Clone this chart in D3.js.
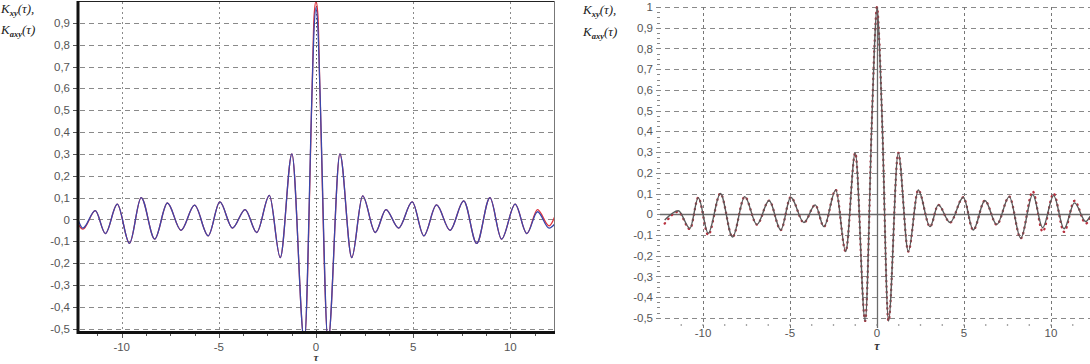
<!DOCTYPE html>
<html>
<head>
<meta charset="utf-8">
<script src="https://cdnjs.cloudflare.com/ajax/libs/d3/7.8.5/d3.min.js"></script>
<style>
  body { margin: 0; background: #fff; }
  svg { display: block; }
</style>
</head>
<body>
<svg id="chart" width="1090" height="364"></svg>
<script>
// values (extrema of each curve)
const leftTau = [-12.25, -12.0, -11.36, -10.84, -10.23, -9.6, -9.0, -8.3, -7.65, -6.95, -6.25, -5.55, -4.95, -4.3, -3.65, -3.05, -2.4, -1.84, -1.24, -0.6, -0.2, -0.1, 0, 0.1, 0.2, 0.62, 1.23, 1.84, 2.4, 3.05, 3.6, 4.25, 4.95, 5.55, 6.2, 6.9, 7.6, 8.27, 8.95, 9.55, 10.25, 10.85, 11.4, 12.0, 12.3];
const leftBlue = [0.0, -0.04, 0.04, -0.065, 0.07, -0.11, 0.10, -0.09, 0.075, -0.05, 0.065, -0.075, 0.08, -0.04, 0.045, -0.06, 0.11, -0.175, 0.30, -0.56, 0.6, 0.87, 0.97, 0.87, 0.6, -0.56, 0.30, -0.175, 0.108, -0.06, 0.045, -0.04, 0.08, -0.075, 0.066, -0.05, 0.085, -0.11, 0.10, -0.09, 0.07, -0.065, 0.035, -0.04, -0.02];
const leftRed = [-0.02, -0.045, 0.04, -0.065, 0.07, -0.11, 0.10, -0.09, 0.075, -0.05, 0.065, -0.075, 0.08, -0.04, 0.045, -0.06, 0.11, -0.175, 0.30, -0.56, 0.6, 0.93, 1.0, 0.93, 0.6, -0.56, 0.30, -0.175, 0.108, -0.06, 0.045, -0.04, 0.08, -0.075, 0.066, -0.05, 0.085, -0.11, 0.10, -0.09, 0.07, -0.065, 0.045, -0.03, 0.015];

const rightTau = [-12.2, -11.42, -10.75, -10.27, -9.7, -9.0, -8.3, -7.6, -6.9, -6.2, -5.53, -4.96, -4.2, -3.55, -3.05, -2.37, -1.8, -1.25, -0.68, -0.3, -0.15, 0, 0.15, 0.3, 0.66, 1.22, 1.8, 2.37, 3.05, 3.52, 4.2, 4.96, 5.53, 6.2, 6.88, 7.6, 8.26, 8.95, 9.52, 10.15, 10.75, 11.35, 12.0, 12.24];
const rightGray = [-0.028, 0.017, -0.068, 0.08, -0.092, 0.10, -0.11, 0.085, -0.05, 0.066, -0.076, 0.082, -0.04, 0.045, -0.06, 0.117, -0.18, 0.296, -0.515, 0.44, 0.8, 1.0, 0.8, 0.44, -0.515, 0.296, -0.18, 0.117, -0.06, 0.045, -0.04, 0.082, -0.076, 0.066, -0.05, 0.085, -0.116, 0.095, -0.065, 0.09, -0.07, 0.055, -0.035, -0.01];
const rightRed = [-0.045, 0.012, -0.072, 0.08, -0.1, 0.10, -0.11, 0.085, -0.05, 0.066, -0.076, 0.082, -0.04, 0.045, -0.06, 0.117, -0.18, 0.296, -0.515, 0.44, 0.8, 1.0, 0.8, 0.44, -0.515, 0.296, -0.18, 0.117, -0.06, 0.045, -0.04, 0.082, -0.076, 0.066, -0.05, 0.085, -0.116, 0.11, -0.084, 0.1, -0.085, 0.065, -0.045, -0.02];

const xTicks = [-10, -5, 0, 5, 10];
const leftYTicks = [0.9, 0.8, 0.7, 0.6, 0.5, 0.4, 0.3, 0.2, 0.1, 0, -0.1, -0.2, -0.3, -0.4, -0.5];
const rightYTicks = [1, 0.9, 0.8, 0.7, 0.6, 0.5, 0.4, 0.3, 0.2, 0.1, 0, -0.1, -0.2, -0.3, -0.4, -0.5];

const svg = d3.select("#chart");
const fmt = d => String(d).replace(".", ",");
const sans = "'Liberation Sans', Arial, sans-serif";
const serif = "'Liberation Serif', 'DejaVu Serif', serif";

function pts(tau, vals) { return tau.map((t, i) => ({ t: t, v: vals[i] })); }

function yTitle(g, x, y, sub, tail) {
    const t = g.append("text").attr("x", x).attr("y", y)
        .attr("font-family", serif).attr("font-style", "italic")
        .attr("font-size", 13).attr("fill", "#222");
    t.append("tspan").text("K");
    t.append("tspan").attr("dy", 3).attr("font-size", 8.5).attr("font-weight", "bold").text(sub);
    t.append("tspan").attr("dy", -3).text("(\u03c4)" + tail);
}

// ---------- left chart ----------
{
    const x = d3.scaleLinear().domain([-12.25, 12.3]).range([78, 555]);
    const y = d3.scaleLinear().domain([-0.518, 1.0]).range([332.5, 1]);
    const g = svg.append("g");

    g.append("clipPath").attr("id", "clipL").append("rect")
        .attr("x", 78).attr("y", 1).attr("width", 477).attr("height", 331.5);

    g.selectAll(".hg").data(leftYTicks).enter().append("line")
        .attr("x1", 80).attr("x2", 555)
        .attr("y1", d => Math.round(y(d)) + 0.5).attr("y2", d => Math.round(y(d)) + 0.5)
        .attr("stroke", "#8a8a8a").attr("stroke-dasharray", "5,4");

    g.selectAll(".vg").data(xTicks).enter().append("line")
        .attr("x1", d => Math.round(x(d)) + 0.5).attr("x2", d => Math.round(x(d)) + 0.5)
        .attr("y1", 2).attr("y2", 331)
        .attr("stroke", d => d === 0 ? "#555" : "#8a8a8a")
        .attr("stroke-dasharray", d => d === 0 ? "1.5,2.5" : "2,3");

    // ticks and labels
    g.selectAll(".yt").data(leftYTicks).enter().append("line")
        .attr("x1", 73).attr("x2", 77)
        .attr("y1", d => Math.round(y(d)) + 0.5).attr("y2", d => Math.round(y(d)) + 0.5)
        .attr("stroke", "#555");
    g.selectAll(".yl").data(leftYTicks).enter().append("text")
        .attr("x", 70).attr("y", d => y(d)).attr("dy", "0.36em")
        .attr("text-anchor", "end").attr("font-family", sans).attr("font-size", 11.5)
        .attr("fill", "#555").text(fmt);

    g.selectAll(".xm").data(d3.range(-11.25, 11.3, 1.25)).enter().append("line")
        .attr("x1", d => Math.round(x(d)) + 0.5).attr("x2", d => Math.round(x(d)) + 0.5)
        .attr("y1", 334).attr("y2", d => d % 5 === 0 ? 338 : 336)
        .attr("stroke", "#555");
    g.selectAll(".xl").data(xTicks).enter().append("text")
        .attr("x", d => x(d)).attr("y", 351)
        .attr("text-anchor", "middle").attr("font-family", sans).attr("font-size", 11.5)
        .attr("fill", "#555").text(d => d);
    g.append("text").attr("x", x(0)).attr("y", 361).attr("text-anchor", "middle")
        .attr("font-family", serif).attr("font-style", "italic").attr("font-weight", "bold")
        .attr("font-size", 11).attr("fill", "#333").text("\u03c4");

    const line = d3.line().x(d => x(d.t)).y(d => y(d.v)).curve(d3.curveMonotoneX);
    const plot = g.append("g").attr("clip-path", "url(#clipL)");
    plot.append("path").attr("d", line(pts(leftTau, leftRed)))
        .attr("fill", "none").attr("stroke", "#e0303a").attr("stroke-width", 1.3);
    plot.append("path").attr("d", line(pts(leftTau, leftBlue)))
        .attr("fill", "none").attr("stroke", "#3a46aa").attr("stroke-width", 1.3);

    // frame
    g.append("line").attr("x1", 78).attr("x2", 555).attr("y1", 1.5).attr("y2", 1.5)
        .attr("stroke", "#222");
    g.append("line").attr("x1", 554.5).attr("x2", 554.5).attr("y1", 1).attr("y2", 333)
        .attr("stroke", "#777");
    g.append("line").attr("x1", 78).attr("x2", 78).attr("y1", 1).attr("y2", 334)
        .attr("stroke", "#111").attr("stroke-width", 3);
    g.append("line").attr("x1", 77).attr("x2", 555).attr("y1", 332.5).attr("y2", 332.5)
        .attr("stroke", "#111").attr("stroke-width", 3);

    yTitle(g, 1, 13, "xy", ",");
    yTitle(g, 1, 34, "axy", "");
}

// ---------- right chart ----------
{
    const x = d3.scaleLinear().domain([-12.47, 12.24]).range([660, 1090]);
    const y = d3.scaleLinear().domain([-0.52, 1.0]).range([322, 7]);
    const g = svg.append("g");

    g.append("clipPath").attr("id", "clipR").append("rect")
        .attr("x", 660).attr("y", 0).attr("width", 430).attr("height", 322);

    g.selectAll(".hg").data(rightYTicks.filter(d => d !== 0)).enter().append("line")
        .attr("x1", 656).attr("x2", 1090)
        .attr("y1", d => Math.round(y(d)) + 0.5).attr("y2", d => Math.round(y(d)) + 0.5)
        .attr("stroke", "#8a8a8a").attr("stroke-dasharray", "5,4");

    g.selectAll(".vg").data(xTicks.filter(d => d !== 0)).enter().append("line")
        .attr("x1", d => Math.round(x(d)) + 0.5).attr("x2", d => Math.round(x(d)) + 0.5)
        .attr("y1", 7).attr("y2", 328)
        .attr("stroke", "#777").attr("stroke-dasharray", "3,3");

    // axes through the origin
    g.append("line").attr("x1", 660).attr("x2", 1090)
        .attr("y1", Math.round(y(0)) + 0.5).attr("y2", Math.round(y(0)) + 0.5)
        .attr("stroke", "#6a6a6a").attr("stroke-width", 1.5);
    g.append("line").attr("x1", Math.round(x(0)) + 0.5).attr("x2", Math.round(x(0)) + 0.5)
        .attr("y1", 7).attr("y2", 328)
        .attr("stroke", "#6a6a6a").attr("stroke-width", 1.3);

    // y ticks (major + minor)
    g.selectAll(".ym").data(d3.range(-0.5, 1.001, 0.025)).enter().append("line")
        .attr("x1", 657).attr("x2", 660)
        .attr("y1", d => Math.round(y(d)) + 0.5).attr("y2", d => Math.round(y(d)) + 0.5)
        .attr("stroke", "#888");
    g.selectAll(".yl").data(rightYTicks).enter().append("text")
        .attr("x", 653).attr("y", d => y(d)).attr("dy", "0.36em")
        .attr("text-anchor", "end").attr("font-family", sans).attr("font-size", 11.5)
        .attr("fill", "#555").text(fmt);

    g.selectAll(".xm").data(d3.range(-11.25, 11.3, 1.25)).enter().append("circle")
        .attr("cx", d => x(d)).attr("cy", 325).attr("r", 0.8).attr("fill", "#777");
    g.selectAll(".xl").data(xTicks).enter().append("text")
        .attr("x", d => x(d)).attr("y", 337)
        .attr("text-anchor", "middle").attr("font-family", sans).attr("font-size", 11.5)
        .attr("fill", "#555").text(d => d);
    g.append("text").attr("x", x(0)).attr("y", 350).attr("text-anchor", "middle")
        .attr("font-family", serif).attr("font-style", "italic").attr("font-weight", "bold")
        .attr("font-size", 12).attr("fill", "#333").text("\u03c4");

    const line = d3.line().x(d => x(d.t)).y(d => y(d.v)).curve(d3.curveMonotoneX);
    const plot = g.append("g").attr("clip-path", "url(#clipR)");
    plot.append("path").attr("d", line(pts(rightTau, rightRed)))
        .attr("fill", "none").attr("stroke", "#b8303e").attr("stroke-width", 2.3)
        .attr("stroke-linecap", "round").attr("stroke-dasharray", "0.5,5");
    plot.append("path").attr("d", line(pts(rightTau, rightGray)))
        .attr("fill", "none").attr("stroke", "#5a5a5a").attr("stroke-width", 1.4);

    yTitle(g, 583, 14, "xy", ",");
    yTitle(g, 583, 36, "axy", "");
}
</script>
</body>
</html>
